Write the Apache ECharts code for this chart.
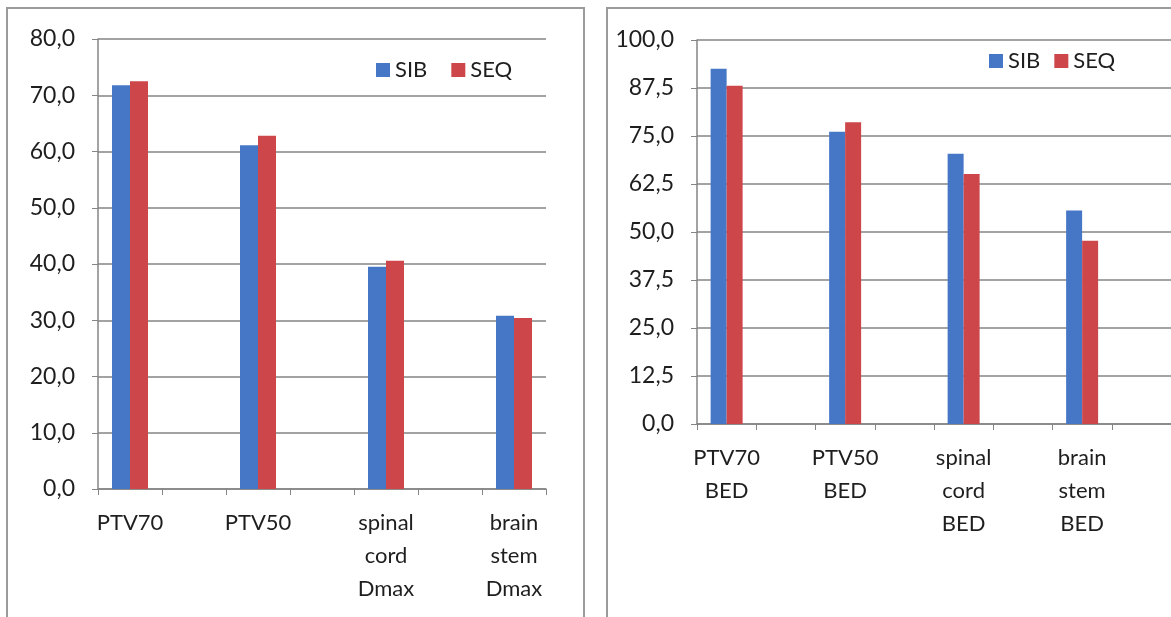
<!DOCTYPE html>
<html>
<head>
<meta charset="utf-8">
<script src="https://cdn.jsdelivr.net/npm/echarts@6/dist/echarts.min.js"></script>
<style>
  html, body { margin: 0; padding: 0; background: #fff; }
  #main { width: 1171px; height: 617px; }
</style>
</head>
<body>
<div id="main"></div>
<script>
// left panel: dose (Gy)
var doseLabels = ['PTV70', 'PTV50', 'spinal\ncord\nDmax', 'brain\nstem\nDmax'];
var doseSIB = [71.8, 61.1, 39.5, 30.8];
var doseSEQ = [72.5, 62.8, 40.6, 30.4];

// right panel: BED
var bedLabels = ['PTV70\nBED', 'PTV50\nBED', 'spinal\ncord\nBED', 'brain\nstem\nBED'];
var bedSIB = [92.5, 76.1, 70.4, 55.6];
var bedSEQ = [88.1, 78.6, 65.1, 47.7];

var seriesNames = ['SIB', 'SEQ'];
var colors = ['#4677c6', '#cd474a'];

// excel chart puts an empty category between every group
function spread(arr, total, blank) {
    var out = [];
    for (var i = 0; i < total; i++) {
        out.push(i % 2 === 0 && arr[i / 2] !== undefined ? arr[i / 2] : blank);
    }
    return out;
}

function fmt(v) {
    return v.toFixed(1).replace('.', ',');
}

var font = 'Lato, "Open Sans", sans-serif';
var textCol = '#1e1e1e';
var lineCol = '#858585';

function xAxis(idx, labels, total) {
    return {
        type: 'category',
        gridIndex: idx,
        data: spread(labels, total, ''),
        axisLine: { lineStyle: { color: lineCol, width: 1.5 } },
        axisTick: { show: true, length: 6, lineStyle: { color: lineCol } },
        axisLabel: {
            interval: 0, margin: 17, color: textCol,
            fontFamily: font, fontSize: 22, lineHeight: 33
        },
        splitLine: { show: false }
    };
}

function yAxis(idx, max, step) {
    return {
        type: 'value',
        gridIndex: idx,
        min: 0, max: max, interval: step,
        axisLine: { show: true, lineStyle: { color: lineCol, width: 1.5 } },
        axisTick: { show: true, length: 6, lineStyle: { color: lineCol } },
        axisLabel: {
            margin: 23, color: textCol, fontFamily: font, fontSize: 23,
            formatter: fmt
        },
        splitLine: { show: true, lineStyle: { color: lineCol, width: 1.5 } }
    };
}

var myChart = echarts.init(document.getElementById('main'));

var option = {
    backgroundColor: '#fff',
    animation: false,
    color: colors,
    grid: [
        { left: 98, top: 39, width: 448, height: 450 },
        { left: 697, top: 40, width: 475, height: 384 }
    ],
    xAxis: [xAxis(0, doseLabels, 7), xAxis(1, bedLabels, 8)],
    yAxis: [yAxis(0, 80, 10), yAxis(1, 100, 12.5)],
    legend: [
        {
            data: seriesNames, left: 371, top: 54,
            itemWidth: 14, itemHeight: 14, itemGap: 24,
            icon: 'rect',
            textStyle: { fontFamily: font, fontSize: 22, color: textCol }
        },
        {
            data: seriesNames, left: 984, top: 45,
            itemWidth: 14, itemHeight: 14, itemGap: 14,
            icon: 'rect',
            textStyle: { fontFamily: font, fontSize: 22, color: textCol }
        }
    ],
    graphic: [
        { type: 'rect', shape: { x: 7, y: 8, width: 577, height: 640 },
          style: { fill: 'none', stroke: '#9b9b9b', lineWidth: 2 } },
        { type: 'rect', shape: { x: 607, y: 8, width: 600, height: 640 },
          style: { fill: 'none', stroke: '#9b9b9b', lineWidth: 2 } }
    ],
    series: [
        { name: 'SIB', type: 'bar', xAxisIndex: 0, yAxisIndex: 0,
          data: spread(doseSIB, 7, '-'), barWidth: 18, barGap: '0%' },
        { name: 'SEQ', type: 'bar', xAxisIndex: 0, yAxisIndex: 0,
          data: spread(doseSEQ, 7, '-'), barWidth: 18, barGap: '0%' },
        { name: 'SIB', type: 'bar', xAxisIndex: 1, yAxisIndex: 1,
          data: spread(bedSIB, 8, '-'), barWidth: 16, barGap: '0%' },
        { name: 'SEQ', type: 'bar', xAxisIndex: 1, yAxisIndex: 1,
          data: spread(bedSEQ, 8, '-'), barWidth: 16, barGap: '0%' }
    ]
};
myChart.setOption(option);
</script>
</body>
</html>
